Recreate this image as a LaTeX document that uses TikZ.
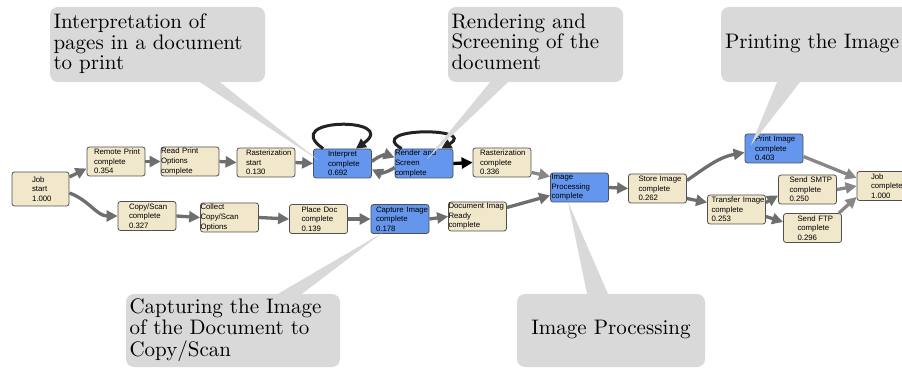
\documentclass[tikz,border=0pt]{standalone}
\usepackage{graphicx}
\usepackage{fontspec}
\newfontfamily\boxfont{Liberation Sans}[HyphenChar=None]
\usetikzlibrary{arrows.meta}

\definecolor{boxbeige}{RGB}{241,231,203}
\definecolor{boxblue}{RGB}{100,150,237}
\definecolor{boxline}{RGB}{80,80,80}
\definecolor{flowgray}{RGB}{110,110,110}
\definecolor{flowpale}{RGB}{135,135,135}
\definecolor{loopdark}{RGB}{35,35,35}
\definecolor{callgray}{RGB}{217,217,217}

\newcommand{\calltext}[1]{\scalebox{2.1}{\renewcommand{\arraystretch}{0.79}\begin{tabular}{@{}l@{}}#1\end{tabular}}}

\begin{document}
\begin{tikzpicture}[x=1pt,y=1pt,
  stage/.style={draw=boxline,line width=0.8pt,rounded corners=2.5pt,fill=boxbeige,
    minimum width=58pt,minimum height=29pt,inner sep=0pt,align=left,
    font=\boxfont\fontsize{7.8}{9.6}\selectfont},
  busy/.style={stage,fill=boxblue},
  flow/.style={draw=flowgray,line width=3.3pt,-{Triangle[length=11pt,width=11pt]}},
  flowpaler/.style={flow,draw=flowpale},
  flowdark/.style={flow,draw=black},
  selfloop/.style={draw=loopdark,line width=3pt,-{Triangle[length=10pt,width=10pt]}},
  bubble/.style={fill=callgray,rounded corners=8pt,inner xsep=3.5pt,inner ysep=0pt}]

\useasboundingbox (0,0) rectangle (902,367);
\clip (0,0) rectangle (902,367);

\node[stage,minimum width=57pt,minimum height=34pt,text width=17pt] (jobstart) at (40.5,178) {Job\\start\\1.000};
\node[stage,text width=44pt] (remote) at (116,205.5) {Remote~Print\\complete\\0.354};
\node[stage,text width=58pt] (readopt) at (190,205.5) {Read~Print\\Options\\complete};
\node[stage,text width=40pt] (raststart) at (266,204.5) {Rasterization\\start\\0.130};
\node[busy,text width=29pt] (interp) at (342.5,203.5) {Interpret\\complete\\0.692};
\node[busy,text width=58pt] (render) at (424,203.5) {Render~and\\Screen\\complete};
\node[stage,text width=44pt] (rastdone) at (502,204.5) {Rasterization\\complete\\0.336};
\node[busy,text width=56pt] (improc) at (579.5,179.5) {Image\\Processing\\complete};

\node[stage,text width=36pt] (copyscan) at (147,151) {Copy/Scan\\complete\\0.327};
\node[stage,text width=58pt] (collect) at (229.5,149.5) {Collect\\Copy/Scan\\Options};
\node[stage,text width=34pt] (placedoc) at (318.5,148) {Place~Doc\\complete\\0.139};
\node[busy,text width=48pt] (capture) at (400,148) {Capture~Image\\complete\\0.178};
\node[stage,text width=58pt] (docready) at (477.5,150.5) {Document~Imag\\Ready\\complete};

\node[stage,text width=38pt] (store) at (657.5,178.5) {Store~Image\\complete\\0.262};
\node[busy,text width=38pt] (print) at (774,218.5) {Print~Image\\complete\\0.403};
\node[stage,text width=50pt] (transfer) at (736.5,157.5) {Transfer~Image\\complete\\0.253};
\node[stage,text width=36pt] (smtp) at (807.5,177.5) {Send~SMTP\\complete\\0.250};
\node[stage,text width=30pt] (ftp) at (812.5,139) {Send~FTP\\complete\\0.296};
\node[stage,text width=30pt] (jobdone) at (886,181) {Job\\complete\\1.000};

  \draw[flow] ([yshift=12pt]jobstart.east) -- ([yshift=-7pt]remote.west);
  \draw[flow] ([yshift=-4pt]jobstart.east) to[out=-20,in=180] (copyscan.west);
  \draw[flow] (remote.east) -- (readopt.west);
  \draw[flow] (readopt.east) -- (raststart.west);
  \draw[flow] (raststart.east) -- (interp.west);
  \draw[flow] ([yshift=2pt]interp.east) to[bend left=30] ([yshift=6pt]render.west);
  \draw[flow] ([yshift=-4pt]render.west) to[bend left=30] ([yshift=-6pt]interp.east);
  \draw[flowdark] (render.east) -- (rastdone.west);
  \draw[flowpaler] ([yshift=5pt]rastdone.south east) -- ([yshift=-4pt]improc.north west);

  \draw[flow] (copyscan.east) -- (collect.west);
  \draw[flow] (collect.east) -- (placedoc.west);
  \draw[flow] (placedoc.east) -- (capture.west);
  \draw[flow] (capture.east) -- (docready.west);
  \draw[flow] ([yshift=9pt]docready.east) -- ([yshift=-8pt]improc.west);

  \draw[flow] (improc.east) -- (store.west);
  \draw[flow] ([yshift=8pt]store.east) to[out=35,in=190] ([yshift=-4pt]print.west);
  \draw[flow] ([yshift=-10pt]store.east) -- ([yshift=7pt]transfer.west);
  \draw[flow] ([yshift=7pt]transfer.east) -- ([yshift=-6pt]smtp.west);
  \draw[flow] ([yshift=-7pt]transfer.east) -- ([yshift=6pt]ftp.west);
  \draw[flowpaler] ([yshift=-8pt]print.east) -- ([yshift=8pt]jobdone.west);
  \draw[flowpaler] (smtp.east) -- (jobdone.west);
  \draw[flowpaler] ([xshift=-3pt]ftp.north east) -- ([yshift=-11pt]jobdone.west);

  \draw[selfloop] ([xshift=10pt]interp.north west) .. controls +(145:55) and +(35:55) .. ([xshift=-16pt]interp.north east);
  \draw[selfloop] ([xshift=7pt]render.north west) .. controls +(150:43) and +(30:43) .. ([xshift=-12pt]render.north east);

\node[bubble,text width=208pt,minimum height=75pt] (c1) at (157.5,322.5) {\calltext{Interpretation of\\pages in a document\\to print}};
\node[bubble,text width=168pt,minimum height=75pt] (c2) at (535.5,322.5) {\calltext{Rendering and\\Screening of the\\document}};
\node[bubble,inner xsep=4pt,text width=192pt,minimum height=75pt] (c3) at (821,322.5) {\calltext{Printing the Image}};
\node[bubble,text width=207pt,minimum height=73pt] (c4) at (233,36.5) {\calltext{Capturing the Image\\of the Document to\\Copy/Scan}};
\node[bubble,minimum width=188pt,minimum height=73pt] (c5) at (611,36.5) {\calltext{Image Processing}};

\coordinate (t1) at (318,207);
\coordinate (t2) at (427,208);
\coordinate (t3) at (751,222);
\coordinate (t4) at (382,134);
\coordinate (t5) at (568,165);

  \fill[callgray] ([xshift=42.5pt]c1.south) -- (t1) -- ([xshift=62.5pt]c1.south) -- cycle;
  \fill[callgray] ([xshift=-45.5pt]c2.south) -- (t2) -- ([xshift=-27.5pt]c2.south) -- cycle;
  \fill[callgray] ([xshift=-44pt]c3.south) -- (t3) -- ([xshift=-21pt]c3.south) -- cycle;
  \fill[callgray] ([xshift=45pt]c4.north) -- (t4) -- ([xshift=69pt]c4.north) -- cycle;
  \fill[callgray] ([xshift=-24pt]c5.north) -- (t5) -- ([xshift=-3pt]c5.north) -- cycle;

\end{tikzpicture}
\end{document}
